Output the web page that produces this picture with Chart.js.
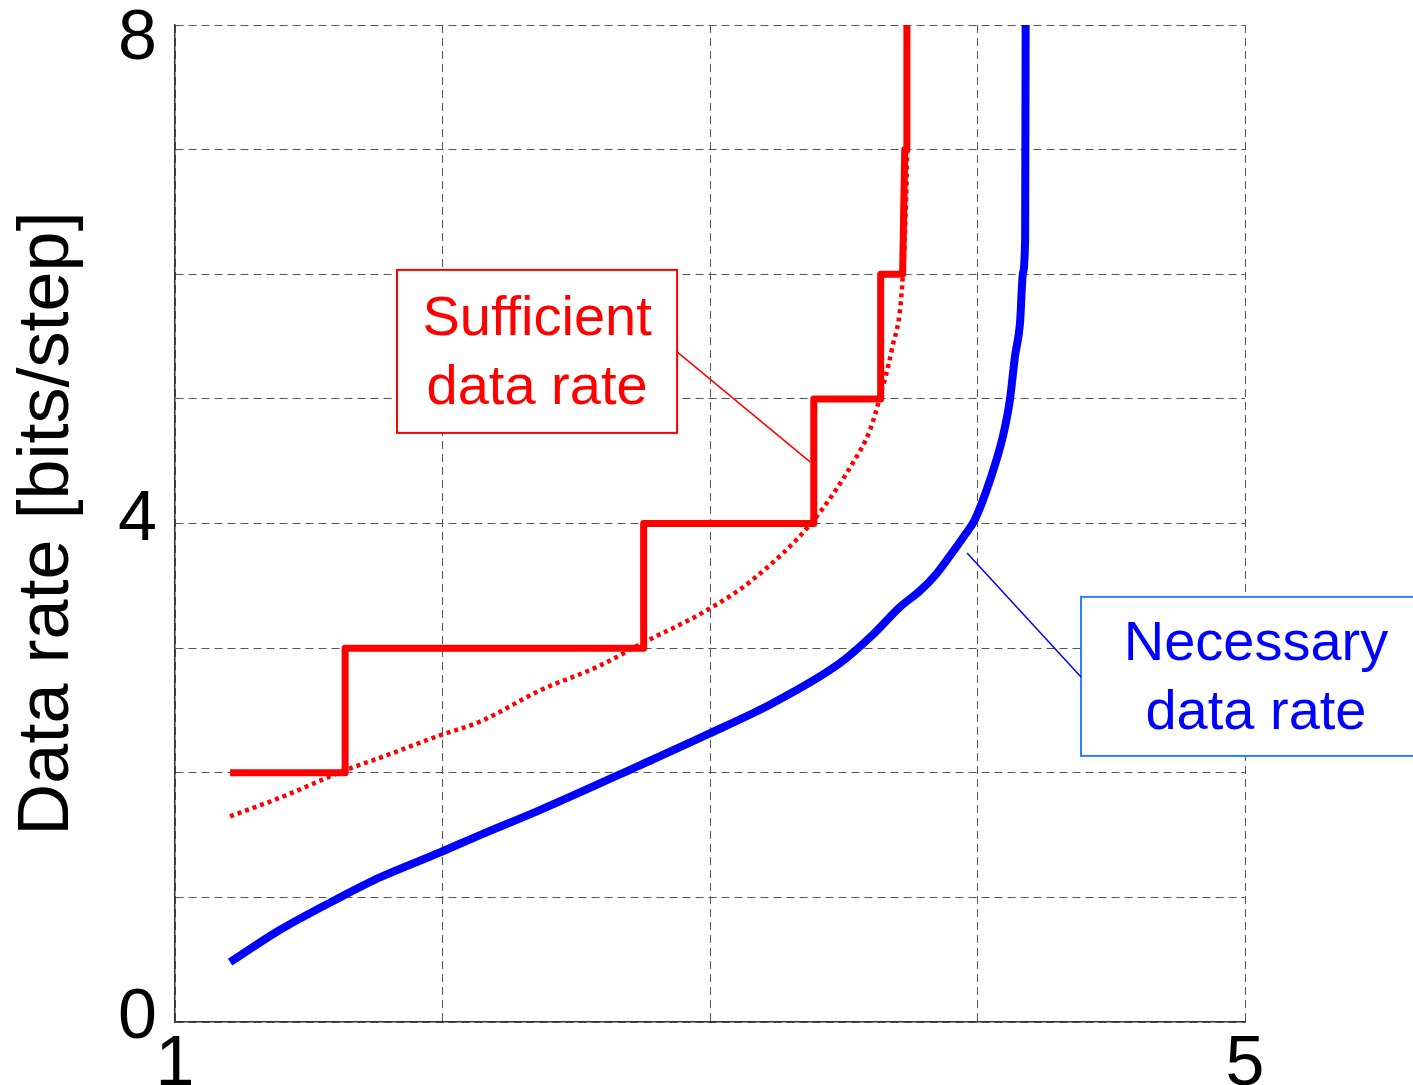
<!DOCTYPE html>
<html>
<head>
<meta charset="utf-8">
<title>Data rate</title>
<script src="https://cdn.jsdelivr.net/npm/chart.js@4.4.1/dist/chart.umd.min.js"></script>
<style>
  html, body { margin: 0; padding: 0; background: #fff; }
  #wrap { position: relative; width: 1413px; height: 1085px; }
</style>
</head>
<body>
<div id="wrap"><canvas id="chart"></canvas></div>
<script>
// --- values ---
// sufficient rate (integer steps)
const stepX = [1.206, 1.636, 1.636, 2.752, 2.752, 3.388, 3.388, 3.638, 3.638, 3.720, 3.728, 3.736, 3.736];
const stepY = [2, 2, 3, 3, 4, 4, 5, 5, 6, 6, 7, 7, 8];
// sufficient rate, continuous bound (dotted)
const boundX = [1.206, 1.393, 1.636, 1.766, 1.99, 2.14, 2.364, 2.589, 2.738, 2.993, 3.16, 3.385, 3.535, 3.598, 3.636, 3.68, 3.718, 3.733, 3.737, 3.740];
const boundY = [1.65, 1.80, 2.02, 2.12, 2.30, 2.41, 2.66, 2.86, 3.03, 3.31, 3.55, 4.02, 4.49, 4.75, 5.02, 5.40, 5.90, 6.60, 7.00, 8.00];
// necessary rate
const necX = [1.206, 1.393, 1.617, 1.766, 1.99, 2.14, 2.364, 2.738, 2.993, 3.236, 3.486, 3.61, 3.71, 3.785, 3.84, 3.89, 3.95, 3.99, 4.047, 4.095, 4.121, 4.14, 4.159, 4.17, 4.178, 4.18];
const necY = [0.48, 0.74, 1.0, 1.16, 1.36, 1.50, 1.70, 2.06, 2.31, 2.56, 2.88, 3.11, 3.33, 3.46, 3.58, 3.72, 3.90, 4.03, 4.35, 4.70, 4.99, 5.34, 5.61, 6.01, 6.28, 8.0];

const xTickLabels = [1, 5];
const yTickLabels = [0, 4, 8];

const FONT = "'Liberation Sans', Arial, sans-serif";
const toPoints = (xs, ys) => xs.map((x, i) => ({ x: x, y: ys[i] }));

// callout boxes, in data units
const callouts = [
  { lines: ['Sufficient', 'data rate'], color: '#ff0000', border: '#ff0000',
    box: [1.830, 6.035, 2.877, 4.727], from: [2.877, 5.377], to: [3.374, 4.494] },
  { lines: ['Necessary', 'data rate'], color: '#0000ff', border: '#2a80ff',
    box: [4.387, 3.411, 5.695, 2.135], from: [4.387, 2.769], to: [3.961, 3.764] }
];

const calloutPlugin = {
  id: 'callouts',
  afterDraw(chart) {
    const { ctx, scales: { x, y } } = chart;
    ctx.save();
    callouts.forEach(c => {
      const x1 = x.getPixelForValue(c.box[0]), y1 = y.getPixelForValue(c.box[1]);
      const x2 = x.getPixelForValue(c.box[2]), y2 = y.getPixelForValue(c.box[3]);
      ctx.fillStyle = '#fff';
      ctx.fillRect(x1, y1, x2 - x1, y2 - y1);
      ctx.strokeStyle = c.border;
      ctx.lineWidth = 2;
      ctx.strokeRect(x1, y1, x2 - x1, y2 - y1);

      ctx.strokeStyle = c.color;
      ctx.lineWidth = 1.5;
      ctx.beginPath();
      ctx.moveTo(x.getPixelForValue(c.from[0]), y.getPixelForValue(c.from[1]));
      ctx.lineTo(x.getPixelForValue(c.to[0]), y.getPixelForValue(c.to[1]));
      ctx.stroke();

      const cx = (x1 + x2) / 2, cy = (y1 + y2) / 2;
      ctx.fillStyle = c.color;
      ctx.font = '56px ' + FONT;
      ctx.textAlign = 'center';
      ctx.textBaseline = 'alphabetic';
      ctx.fillText(c.lines[0], cx, cy - 16);
      ctx.fillText(c.lines[1], cx, cy + 53);
    });
    ctx.restore();
  }
};

const gridStyle = { color: '#555', lineWidth: 1, drawTicks: false };
const borderStyle = { display: true, color: '#333', width: 1.5, dash: [8, 5] };

new Chart(document.getElementById('chart'), {
  type: 'line',
  data: {
    datasets: [
      { data: toPoints(boundX, boundY), borderColor: '#ff0000', borderWidth: 4.5, borderDash: [4, 4],
        pointRadius: 0, cubicInterpolationMode: 'monotone' },
      { data: toPoints(stepX, stepY), borderColor: '#ff0000', borderWidth: 7, pointRadius: 0, tension: 0,
        borderJoinStyle: 'round' },
      { data: toPoints(necX, necY), borderColor: '#0000ff', borderWidth: 8, pointRadius: 0,
        cubicInterpolationMode: 'monotone', borderJoinStyle: 'round' }
    ]
  },
  options: {
    responsive: true,
    maintainAspectRatio: false,
    animation: false,
    layout: { padding: { top: 25, right: 168, bottom: 0, left: 0 } },
    plugins: { legend: { display: false }, tooltip: { enabled: false } },
    scales: {
      x: {
        type: 'linear', min: 1, max: 5,
        grid: gridStyle, border: borderStyle,
        ticks: {
          stepSize: 1, padding: 2, color: '#000', maxRotation: 0, autoSkip: false,
          font: { size: 70, family: FONT },
          callback: v => xTickLabels.includes(v) ? String(v) : ''
        },
        afterFit(s) { s.height = 63; s.paddingLeft = 0; s.paddingRight = 0; }
      },
      y: {
        type: 'linear', min: 0, max: 8,
        grid: gridStyle, border: borderStyle,
        ticks: {
          stepSize: 1, padding: 18, color: '#000', autoSkip: false, labelOffset: -3,
          // top label sits a bit lower so it stays inside the figure (empty first line pushes it down)
          font: c => ({ size: 70, family: FONT, lineHeight: c.tick && c.tick.value === 8 ? 0.5 : 1.2 }),
          callback: v => yTickLabels.includes(v) ? (v === 8 ? ['', '8'] : String(v)) : ''
        },
        title: {
          display: true, text: 'Data rate [bits/step]', color: '#000',
          font: { size: 72, family: FONT }, padding: { top: 5, bottom: 0 }
        },
        afterFit(s) { s.width = 175; s.paddingTop = 0; s.paddingBottom = 0; }
      }
    }
  },
  plugins: [calloutPlugin]
});
</script>
</body>
</html>
